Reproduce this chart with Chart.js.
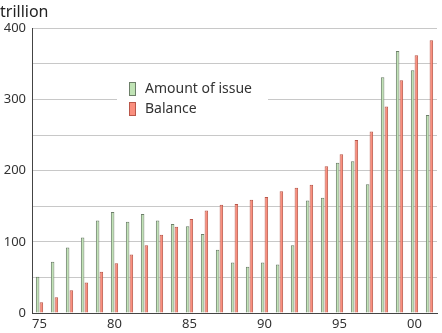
<!DOCTYPE html>
<html>
<head>
<meta charset="utf-8">
<script src="https://cdn.jsdelivr.net/npm/chart.js@4/dist/chart.umd.min.js"></script>
<style>
  html, body { margin: 0; padding: 0; background: #fff; }
  #wrap { width: 442px; height: 333px; }
</style>
</head>
<body>
<div id="wrap"><canvas id="c"></canvas></div>
<script>
// fiscal years 1975 - 2001
const years = ["75", "76", "77", "78", "79", "80", "81", "82", "83", "84", "85", "86", "87", "88",
               "89", "90", "91", "92", "93", "94", "95", "96", "97", "98", "99", "00", "01"];
const amountOfIssue = [51, 72, 92, 106, 130, 142, 128, 139, 130, 125, 122, 111, 89, 71,
                       65, 71, 68, 95, 158, 162, 211, 213, 181, 331, 368, 341, 278];
const balance = [15, 22, 32, 43, 58, 70, 82, 95, 110, 121, 132, 144, 152, 153,
                 159, 163, 171, 176, 180, 206, 223, 243, 255, 290, 327, 362, 383];
const unitLabel = "trillion";

const FONT = "'Noto Sans', 'DejaVu Sans', sans-serif";

// legend sits inside the plot on a white box
const boxLegend = {
    id: "boxLegend",
    beforeDatasetsDraw(chart) {
        const ctx = chart.ctx;
        ctx.save();
        ctx.fillStyle = "#fff";
        ctx.fillRect(117, 70, 151, 55);
        ctx.font = "14px " + FONT;
        ctx.textBaseline = "middle";
        chart.data.datasets.forEach((ds, i) => {
            const y = 82 + i * 20;
            ctx.fillStyle = ds.backgroundColor;
            ctx.fillRect(129, y, 7, 14);
            ctx.strokeStyle = ds.borderColor;
            ctx.lineWidth = 1;
            ctx.strokeRect(129.5, y + 0.5, 6, 13);
            ctx.fillStyle = "#333";
            ctx.fillText(ds.label, 145, y + 7);
        });
        ctx.restore();
    }
};

new Chart(document.getElementById("c"), {
    type: "bar",
    data: {
        labels: years,
        datasets: [
            {
                label: "Amount of issue",
                data: amountOfIssue,
                backgroundColor: "#c0e3b5",
                borderColor: "#6d7f69",
                borderWidth: 1
            },
            {
                label: "Balance",
                data: balance,
                backgroundColor: "#fa8f7e",
                borderColor: "#b9574a",
                borderWidth: 1
            }
        ]
    },
    options: {
        responsive: true,
        maintainAspectRatio: false,
        animation: false,
        layout: { padding: { left: 0, right: 5, top: 3, bottom: 0 } },
        datasets: {
            bar: { categoryPercentage: 0.5, barPercentage: 0.94 }
        },
        plugins: {
            legend: { display: false },
            tooltip: { enabled: false },
            title: {
                display: true,
                text: unitLabel,
                align: "start",
                color: "#222",
                font: { family: FONT, size: 16, weight: "normal" },
                padding: { top: 0, bottom: 6 }
            }
        },
        scales: {
            x: {
                afterFit: (scale) => { scale.height = 20; },
                grid: { display: false, drawTicks: false },
                border: { color: "#444", width: 1 },
                ticks: {
                    autoSkip: false,
                    maxRotation: 0,
                    padding: 3,
                    color: "#333",
                    font: { family: FONT, size: 13 },
                    callback: function (value, index) {
                        return index % 5 === 0 ? this.getLabelForValue(value) : "";
                    }
                }
            },
            y: {
                min: 0,
                max: 400,
                afterFit: (scale) => { scale.width = 32; },
                grid: { color: "#c8c8c8", drawTicks: false },
                border: { color: "#444", width: 1 },
                ticks: {
                    stepSize: 50,
                    padding: 6,
                    color: "#333",
                    font: { family: FONT, size: 13 },
                    callback: (v) => (v % 100 === 0 ? v : "")
                }
            }
        }
    },
    plugins: [boxLegend]
});
</script>
</body>
</html>
